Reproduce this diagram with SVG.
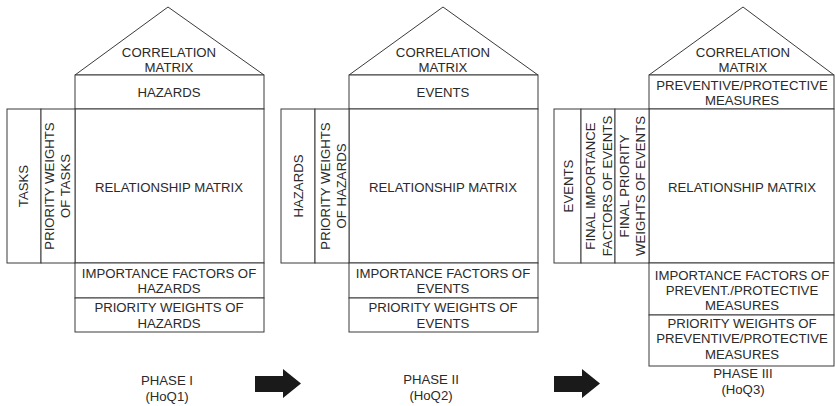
<svg xmlns="http://www.w3.org/2000/svg" width="835" height="406" viewBox="0 0 835 406">
<style>
.b{fill:#fff;stroke:#3a3a3a;stroke-width:1}
.t{font-family:"Liberation Sans",Arial,sans-serif;font-size:13.2px;fill:#2a2a2a;text-anchor:middle}
.ar{fill:#1a1a1a}
</style>
<rect width="835" height="406" fill="#fff"/>
<g id="hoq1">
<polygon class="b" points="75,75 168,7 264,75"/>
<rect class="b" x="75" y="75" width="189" height="34"/>
<rect class="b" x="75" y="109" width="189" height="154"/>
<rect class="b" x="7" y="109" width="34" height="154"/>
<rect class="b" x="41" y="109" width="34" height="154"/>
<rect class="b" x="75" y="263" width="189" height="35"/>
<rect class="b" x="75" y="298" width="189" height="34"/>
<text class="t" x="169" y="57">CORRELATION</text>
<text class="t" x="169" y="72">MATRIX</text>
<text class="t" x="169" y="97">HAZARDS</text>
<text class="t" x="169" y="192">RELATIONSHIP MATRIX</text>
<text class="t" transform="translate(23,186) rotate(-90)" x="0" y="5">TASKS</text>
<text class="t" transform="translate(49,186) rotate(-90)" x="0" y="5">PRIORITY WEIGHTS</text>
<text class="t" transform="translate(65,186) rotate(-90)" x="0" y="5">OF TASKS</text>
<text class="t" x="169" y="278">IMPORTANCE FACTORS OF</text>
<text class="t" x="169" y="293">HAZARDS</text>
<text class="t" x="169" y="312">PRIORITY WEIGHTS OF</text>
<text class="t" x="169" y="328">HAZARDS</text>
<text class="t" x="167" y="385">PHASE I</text>
<text class="t" x="167" y="401">(HoQ1)</text>
</g>
<g id="hoq2">
<polygon class="b" points="349,75 443,7 538,75"/>
<rect class="b" x="349" y="75" width="189" height="34"/>
<rect class="b" x="349" y="109" width="189" height="154"/>
<rect class="b" x="281" y="109" width="34" height="154"/>
<rect class="b" x="315" y="109" width="34" height="154"/>
<rect class="b" x="349" y="263" width="189" height="35"/>
<rect class="b" x="349" y="298" width="189" height="34"/>
<text class="t" x="443" y="57">CORRELATION</text>
<text class="t" x="443" y="72">MATRIX</text>
<text class="t" x="443" y="97">EVENTS</text>
<text class="t" x="443" y="192">RELATIONSHIP MATRIX</text>
<text class="t" transform="translate(298,186) rotate(-90)" x="0" y="5">HAZARDS</text>
<text class="t" transform="translate(325,186) rotate(-90)" x="0" y="5">PRIORITY WEIGHTS</text>
<text class="t" transform="translate(341,186) rotate(-90)" x="0" y="5">OF HAZARDS</text>
<text class="t" x="443" y="278">IMPORTANCE FACTORS OF</text>
<text class="t" x="443" y="293">EVENTS</text>
<text class="t" x="443" y="312">PRIORITY WEIGHTS OF</text>
<text class="t" x="443" y="328">EVENTS</text>
<text class="t" x="431" y="384">PHASE II</text>
<text class="t" x="431" y="400">(HoQ2)</text>
</g>
<g id="hoq3">
<polygon class="b" points="649,75 743,7 834,75"/>
<rect class="b" x="649" y="75" width="185" height="34"/>
<rect class="b" x="649" y="109" width="185" height="154"/>
<rect class="b" x="554" y="109" width="27" height="154"/>
<rect class="b" x="581" y="109" width="34" height="154"/>
<rect class="b" x="615" y="109" width="34" height="154"/>
<rect class="b" x="649" y="263" width="185" height="52"/>
<rect class="b" x="649" y="315" width="185" height="51"/>
<text class="t" x="743" y="57">CORRELATION</text>
<text class="t" x="743" y="72">MATRIX</text>
<text class="t" x="742" y="90">PREVENTIVE/PROTECTIVE</text>
<text class="t" x="742" y="105">MEASURES</text>
<text class="t" x="742" y="192">RELATIONSHIP MATRIX</text>
<text class="t" transform="translate(568,186) rotate(-90)" x="0" y="5">EVENTS</text>
<text class="t" transform="translate(590,186) rotate(-90)" x="0" y="5">FINAL IMPORTANCE</text>
<text class="t" transform="translate(607,186) rotate(-90)" x="0" y="5">FACTORS OF EVENTS</text>
<text class="t" transform="translate(624,186) rotate(-90)" x="0" y="5">FINAL PRIORITY</text>
<text class="t" transform="translate(640,186) rotate(-90)" x="0" y="5">WEIGHTS OF EVENTS</text>
<text class="t" x="742" y="280">IMPORTANCE FACTORS OF</text>
<text class="t" x="742" y="295">PREVENT./PROTECTIVE</text>
<text class="t" x="742" y="310">MEASURES</text>
<text class="t" x="742" y="328">PRIORITY WEIGHTS OF</text>
<text class="t" x="742" y="343">PREVENTIVE/PROTECTIVE</text>
<text class="t" x="742" y="359">MEASURES</text>
<text class="t" x="743" y="378">PHASE III</text>
<text class="t" x="743" y="394">(HoQ3)</text>
</g>
<g id="connectors">
<polygon class="ar" points="255,376 283,376 283,369 301,383.5 283,398 283,392 255,392"/>
<polygon class="ar" points="554,376 582,376 582,369 600,383.5 582,398 582,392 554,392"/>
</g>
</svg>
